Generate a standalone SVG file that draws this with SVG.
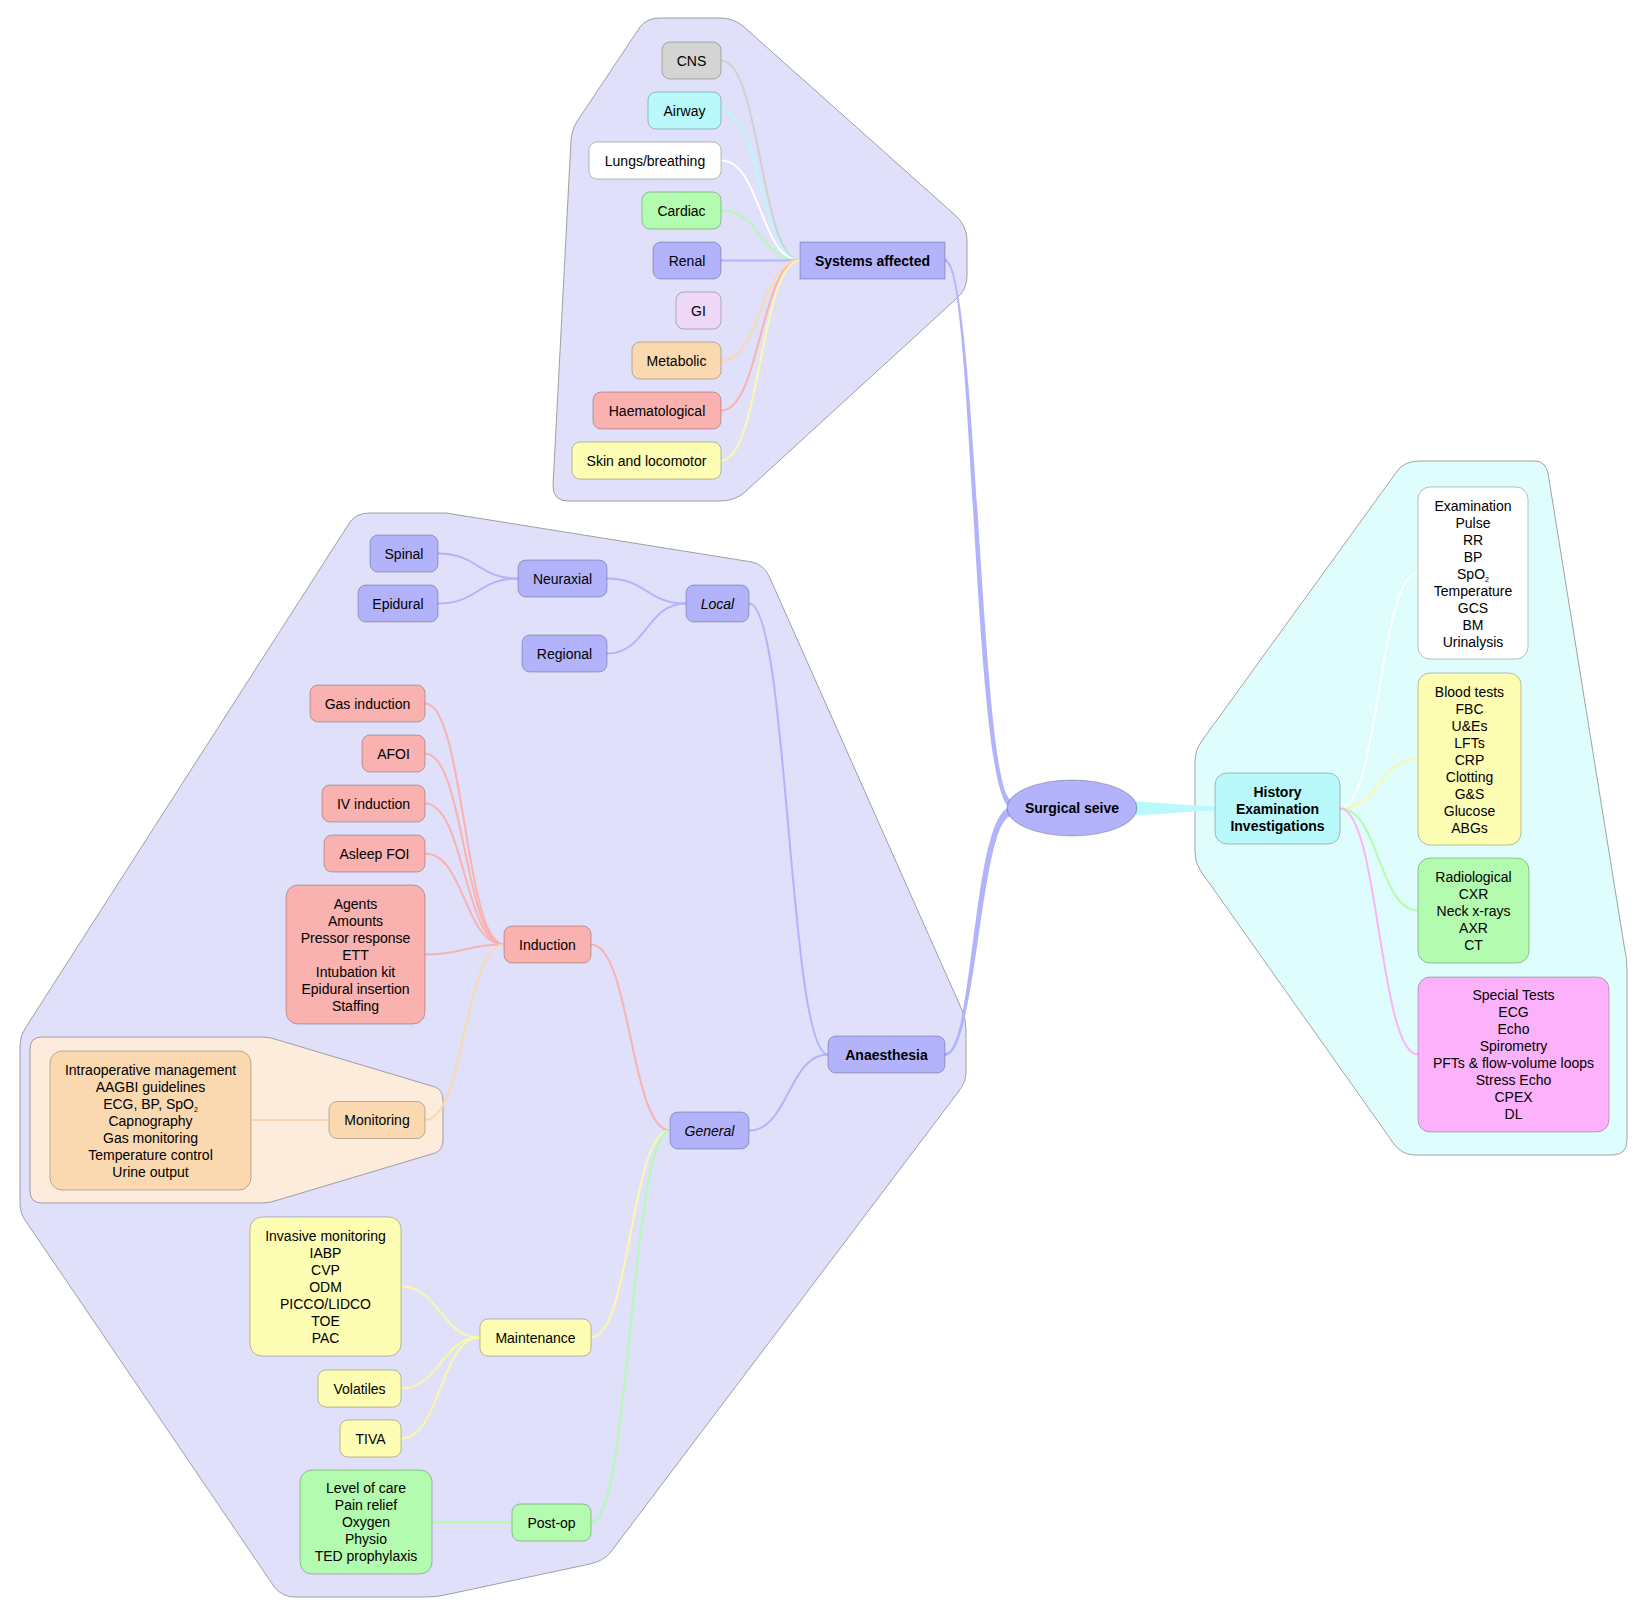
<svg xmlns="http://www.w3.org/2000/svg" width="1648" height="1618" viewBox="0 0 1648 1618">
<style>
text{font-family:"Liberation Sans",Arial,sans-serif;font-size:14px;fill:#000;text-anchor:middle}
.b{font-weight:bold}
.i{font-style:italic}
.hull{stroke:#8c8c8c;stroke-width:0.8}
.node rect,.node ellipse{stroke:rgba(0,0,0,0.25);stroke-width:1}
#connectors path{fill:none;stroke-width:2}
#connectors .tl{fill:#b3b3fb;stroke:none}
#connectors .tc{fill:#b9f9fb;stroke:none}
.lav{fill:#b3b3fb}.red{fill:#f9b2b0}.yel{fill:#fdfdb3}.grn{fill:#b3fbae}.org{fill:#fbd9b0}
.cyn{fill:#b9f9fb}.wht{fill:#ffffff}.gry{fill:#d4d4d4}.pur{fill:#eed8fa}.pnk{fill:#fcb2fb}
.sl{stroke:#b3b3fb}.sr{stroke:#f9b2b0}.sy{stroke:#fbf8a8}.sg{stroke:#b3fbae}.so{stroke:#fbd9b0}
.sc{stroke:#b9f9fb}.sw{stroke:#ffffff}.sgr{stroke:#d0d0d0}.sp{stroke:#eed8fa}.spk{stroke:#fcb2fb}
.sub{font-size:7px}
</style>

<g id="hulls">
<path class="hull" fill="#e0e0fb" d="M660,18 L720,18 Q733,18 743,26 L955,215 Q967,226 967,240 L967,276 Q967,290 956,299 L745,492 Q735,501 720,501 L568,501 Q553,501 553,486 L571,140 Q572,127 580,117 L640,27 Q647,18 660,18 Z"/>
<path class="hull" fill="#e0fdfd" d="M1420,461 L1535,461 Q1545,461 1548,473 L1624,945 Q1627,958 1627,970 L1627,1140 Q1627,1155 1612,1155 L1415,1155 Q1402,1155 1394,1144 L1200,870 Q1195,862 1195,852 L1195,760 Q1195,750 1201,742 L1398,470 Q1405,461 1420,461 Z"/>
<path class="hull" fill="#e0e0fb" d="M370,513 L446,513 L752,562 Q764,565 769,576 L962,1010 Q966,1019 966,1030 L966,1072 Q966,1082 959,1091 L610,1553 Q603,1561 590,1564 L445,1595 Q437,1597 425,1597 L295,1597 Q283,1597 275,1588 L25,1220 Q20,1213 20,1203 L20,1045 Q20,1035 26,1027 L350,522 Q356,513 370,513 Z"/>
<path class="hull" fill="#fdecdc" d="M42,1037 L262,1037 Q270,1037 278,1040 L435,1087 Q443,1090 443,1100 L443,1140 Q443,1150 435,1153 L278,1200 Q270,1203 262,1203 L42,1203 Q30,1203 30,1191 L30,1049 Q30,1037 42,1037 Z"/>
</g>

<g id="connectors">
<path class="tl" d="M945,259 C977.5,259 980,800 1012,800 L1012,808 C972,808 974.5,262 945,262 Z"/>
<path class="tl" d="M945,1056 C977.5,1056 980,816 1012,816 L1012,807 C972,807 974.5,1053 945,1053 Z"/>
<path class="tc" d="M1125,801 L1137,801.5 C1170,803 1195,806.5 1216,806.5 L1216,810.5 C1195,810.5 1170,814 1137,815 L1125,815 Z"/>
<path class="sgr" d="M721,60.5 C760.5,60.5 760.5,260.5 800,260.5"/>
<path class="sc" d="M721,110.5 C760.5,110.5 760.5,260.5 800,260.5"/>
<path class="sw" d="M721,160.5 C760.5,160.5 760.5,260.5 800,260.5"/>
<path class="sg" d="M721,210.5 C760.5,210.5 760.5,260.5 800,260.5"/>
<path class="sl" d="M721,260.5 L800,260.5"/>
<path class="sp" d="M721,310.5 C760.5,310.5 760.5,260.5 800,260.5"/>
<path class="so" d="M721,360.5 C760.5,360.5 760.5,260.5 800,260.5"/>
<path class="sr" d="M721,410.5 C760.5,410.5 760.5,260.5 800,260.5"/>
<path class="sy" d="M721,460.5 C760.5,460.5 760.5,260.5 800,260.5"/>

<path class="sl" d="M438,553.5 C478,553.5 478,578.5 518,578.5"/>
<path class="sl" d="M438,603.5 C478,603.5 478,578.5 518,578.5"/>
<path class="sl" d="M607,578.5 C646.5,578.5 646.5,603.5 686,603.5"/>
<path class="sl" d="M607,653.5 C646.5,653.5 646.5,603.5 686,603.5"/>
<path class="sl" d="M749,603.5 C788.5,603.5 788.5,1054.5 828,1054.5"/>

<path class="sr" d="M425,703.5 C464.5,703.5 464.5,944.5 504,944.5"/>
<path class="sr" d="M425,753.5 C464.5,753.5 464.5,944.5 504,944.5"/>
<path class="sr" d="M425,803.5 C464.5,803.5 464.5,944.5 504,944.5"/>
<path class="sr" d="M425,853.5 C464.5,853.5 464.5,944.5 504,944.5"/>
<path class="sr" d="M425,954.5 C464.5,954.5 464.5,944.5 504,944.5"/>
<path class="so" d="M425,1120 C464.5,1120 464.5,944.5 504,944.5"/>
<path class="so" d="M251,1120 L329,1120"/>
<path class="sr" d="M591,944.5 C630.5,944.5 630.5,1130.5 670,1130.5"/>
<path class="sl" d="M749,1130.5 C788.5,1130.5 788.5,1054.5 828,1054.5"/>

<path class="sy" d="M401,1286.5 C440.5,1286.5 440.5,1337.5 480,1337.5"/>
<path class="sy" d="M401,1388.5 C440.5,1388.5 440.5,1337.5 480,1337.5"/>
<path class="sy" d="M401,1438.5 C440.5,1438.5 440.5,1337.5 480,1337.5"/>
<path class="sy" d="M591,1337.5 C630.5,1337.5 630.5,1130.5 670,1130.5"/>
<path class="sg" d="M432,1522.5 L512,1522.5"/>
<path class="sg" d="M591,1522.5 C630.5,1522.5 630.5,1130.5 670,1130.5"/>

<path class="sw" d="M1340,808.5 C1379,808.5 1379,573 1418,573"/>
<path class="sy" d="M1340,808.5 C1379,808.5 1379,759 1418,759"/>
<path class="sg" d="M1340,808.5 C1379,808.5 1379,910.5 1418,910.5"/>
<path class="spk" d="M1340,808.5 C1379,808.5 1379,1054.5 1418,1054.5"/>
</g>

<g id="n-cns" class="node"><rect class="gry" x="662" y="42" width="59" height="37" rx="8"/><text x="691.5" y="65.5">CNS</text></g>
<g id="n-airway" class="node"><rect class="cyn" x="648" y="92" width="73" height="37" rx="8"/><text x="684.5" y="115.5">Airway</text></g>
<g id="n-lungs" class="node"><rect class="wht" x="589" y="142" width="132" height="37" rx="8"/><text x="655" y="165.5">Lungs/breathing</text></g>
<g id="n-cardiac" class="node"><rect class="grn" x="642" y="192" width="79" height="37" rx="8"/><text x="681.5" y="215.5">Cardiac</text></g>
<g id="n-renal" class="node"><rect class="lav" x="653" y="242" width="68" height="37" rx="8"/><text x="687" y="265.5">Renal</text></g>
<g id="n-gi" class="node"><rect class="pur" x="676" y="292" width="45" height="37" rx="8"/><text x="698.5" y="315.5">GI</text></g>
<g id="n-metabolic" class="node"><rect class="org" x="632" y="342" width="89" height="37" rx="8"/><text x="676.5" y="365.5">Metabolic</text></g>
<g id="n-haem" class="node"><rect class="red" x="593" y="392" width="128" height="37" rx="8"/><text x="657" y="415.5">Haematological</text></g>
<g id="n-skin" class="node"><rect class="yel" x="572" y="442" width="149" height="37" rx="8"/><text x="646.5" y="465.5">Skin and locomotor</text></g>
<g id="n-systems" class="node"><rect class="lav" x="800" y="242" width="145" height="37"/><text class="b" x="872.5" y="265.5">Systems affected</text></g>

<g id="n-spinal" class="node"><rect class="lav" x="370" y="535" width="68" height="37" rx="8"/><text x="404" y="558.5">Spinal</text></g>
<g id="n-epidural" class="node"><rect class="lav" x="358" y="585" width="80" height="37" rx="8"/><text x="398" y="608.5">Epidural</text></g>
<g id="n-neuraxial" class="node"><rect class="lav" x="518" y="560" width="89" height="37" rx="8"/><text x="562.5" y="583.5">Neuraxial</text></g>
<g id="n-regional" class="node"><rect class="lav" x="522" y="635" width="85" height="37" rx="8"/><text x="564.5" y="658.5">Regional</text></g>
<g id="n-local" class="node"><rect class="lav" x="686" y="585" width="63" height="37" rx="8"/><text class="i" x="717.5" y="608.5">Local</text></g>

<g id="n-gas" class="node"><rect class="red" x="310" y="685" width="115" height="37" rx="8"/><text x="367.5" y="708.5">Gas induction</text></g>
<g id="n-afoi" class="node"><rect class="red" x="362" y="735" width="63" height="37" rx="8"/><text x="393.5" y="758.5">AFOI</text></g>
<g id="n-iv" class="node"><rect class="red" x="322" y="785" width="103" height="37" rx="8"/><text x="373.5" y="808.5">IV induction</text></g>
<g id="n-asleep" class="node"><rect class="red" x="324" y="835" width="101" height="37" rx="8"/><text x="374.5" y="858.5">Asleep FOI</text></g>
<g id="n-agents" class="node"><rect class="red" x="286" y="885" width="139" height="139" rx="12"/>
<text x="355.5" y="908.5">Agents</text><text x="355.5" y="925.5">Amounts</text><text x="355.5" y="942.5">Pressor response</text><text x="355.5" y="959.5">ETT</text><text x="355.5" y="976.5">Intubation kit</text><text x="355.5" y="993.5">Epidural insertion</text><text x="355.5" y="1010.5">Staffing</text></g>
<g id="n-induction" class="node"><rect class="red" x="504" y="926" width="87" height="37" rx="8"/><text x="547.5" y="949.5">Induction</text></g>

<g id="n-intraop" class="node"><rect class="org" x="50" y="1051" width="201" height="139" rx="12"/>
<text x="150.5" y="1074.5">Intraoperative management</text><text x="150.5" y="1091.5">AAGBI guidelines</text><text x="150.5" y="1108.5">ECG, BP, SpO<tspan class="sub" dy="3">2</tspan></text><text x="150.5" y="1125.5">Capnography</text><text x="150.5" y="1142.5">Gas monitoring</text><text x="150.5" y="1159.5">Temperature control</text><text x="150.5" y="1176.5">Urine output</text></g>
<g id="n-monitoring" class="node"><rect class="org" x="329" y="1101.5" width="96" height="37" rx="8"/><text x="377" y="1125">Monitoring</text></g>

<g id="n-general" class="node"><rect class="lav" x="670" y="1112" width="79" height="37" rx="8"/><text class="i" x="709.5" y="1135.5">General</text></g>
<g id="n-anaesthesia" class="node"><rect class="lav" x="828" y="1036" width="117" height="37" rx="8"/><text class="b" x="886.5" y="1059.5">Anaesthesia</text></g>

<g id="n-invasive" class="node"><rect class="yel" x="250" y="1217" width="151" height="139" rx="12"/>
<text x="325.5" y="1240.5">Invasive monitoring</text><text x="325.5" y="1257.5">IABP</text><text x="325.5" y="1274.5">CVP</text><text x="325.5" y="1291.5">ODM</text><text x="325.5" y="1308.5">PICCO/LIDCO</text><text x="325.5" y="1325.5">TOE</text><text x="325.5" y="1342.5">PAC</text></g>
<g id="n-volatiles" class="node"><rect class="yel" x="318" y="1370" width="83" height="37" rx="8"/><text x="359.5" y="1393.5">Volatiles</text></g>
<g id="n-tiva" class="node"><rect class="yel" x="340" y="1420" width="61" height="37" rx="8"/><text x="370.5" y="1443.5">TIVA</text></g>
<g id="n-maintenance" class="node"><rect class="yel" x="480" y="1319" width="111" height="37" rx="8"/><text x="535.5" y="1342.5">Maintenance</text></g>

<g id="n-level" class="node"><rect class="grn" x="300" y="1470" width="132" height="104" rx="12"/>
<text x="366" y="1493">Level of care</text><text x="366" y="1510">Pain relief</text><text x="366" y="1527">Oxygen</text><text x="366" y="1544">Physio</text><text x="366" y="1561">TED prophylaxis</text></g>
<g id="n-postop" class="node"><rect class="grn" x="512" y="1504" width="79" height="37" rx="8"/><text x="551.5" y="1527.5">Post-op</text></g>

<g id="n-seive" class="node"><ellipse class="lav" cx="1072" cy="808" rx="65" ry="28"/><text class="b" x="1072" y="813">Surgical seive</text></g>

<g id="n-history" class="node"><rect class="cyn" x="1215" y="773" width="125" height="71" rx="12"/>
<text class="b" x="1277.5" y="796.5">History</text><text class="b" x="1277.5" y="813.5">Examination</text><text class="b" x="1277.5" y="830.5">Investigations</text></g>

<g id="n-exam" class="node"><rect class="wht" x="1418" y="487" width="110" height="172" rx="12"/>
<text x="1473" y="511">Examination</text><text x="1473" y="528">Pulse</text><text x="1473" y="545">RR</text><text x="1473" y="562">BP</text><text x="1473" y="579">SpO<tspan class="sub" dy="3">2</tspan></text><text x="1473" y="596">Temperature</text><text x="1473" y="613">GCS</text><text x="1473" y="630">BM</text><text x="1473" y="647">Urinalysis</text></g>

<g id="n-blood" class="node"><rect class="yel" x="1418" y="673" width="103" height="172" rx="12"/>
<text x="1469.5" y="697">Blood tests</text><text x="1469.5" y="714">FBC</text><text x="1469.5" y="731">U&amp;Es</text><text x="1469.5" y="748">LFTs</text><text x="1469.5" y="765">CRP</text><text x="1469.5" y="782">Clotting</text><text x="1469.5" y="799">G&amp;S</text><text x="1469.5" y="816">Glucose</text><text x="1469.5" y="833">ABGs</text></g>

<g id="n-radio" class="node"><rect class="grn" x="1418" y="858" width="111" height="105" rx="12"/>
<text x="1473.5" y="881.5">Radiological</text><text x="1473.5" y="898.5">CXR</text><text x="1473.5" y="915.5">Neck x-rays</text><text x="1473.5" y="932.5">AXR</text><text x="1473.5" y="949.5">CT</text></g>

<g id="n-special" class="node"><rect class="pnk" x="1418" y="977" width="191" height="155" rx="12"/>
<text x="1513.5" y="1000">Special Tests</text><text x="1513.5" y="1017">ECG</text><text x="1513.5" y="1034">Echo</text><text x="1513.5" y="1051">Spirometry</text><text x="1513.5" y="1068">PFTs &amp; flow-volume loops</text><text x="1513.5" y="1085">Stress Echo</text><text x="1513.5" y="1102">CPEX</text><text x="1513.5" y="1119">DL</text></g>
</svg>
